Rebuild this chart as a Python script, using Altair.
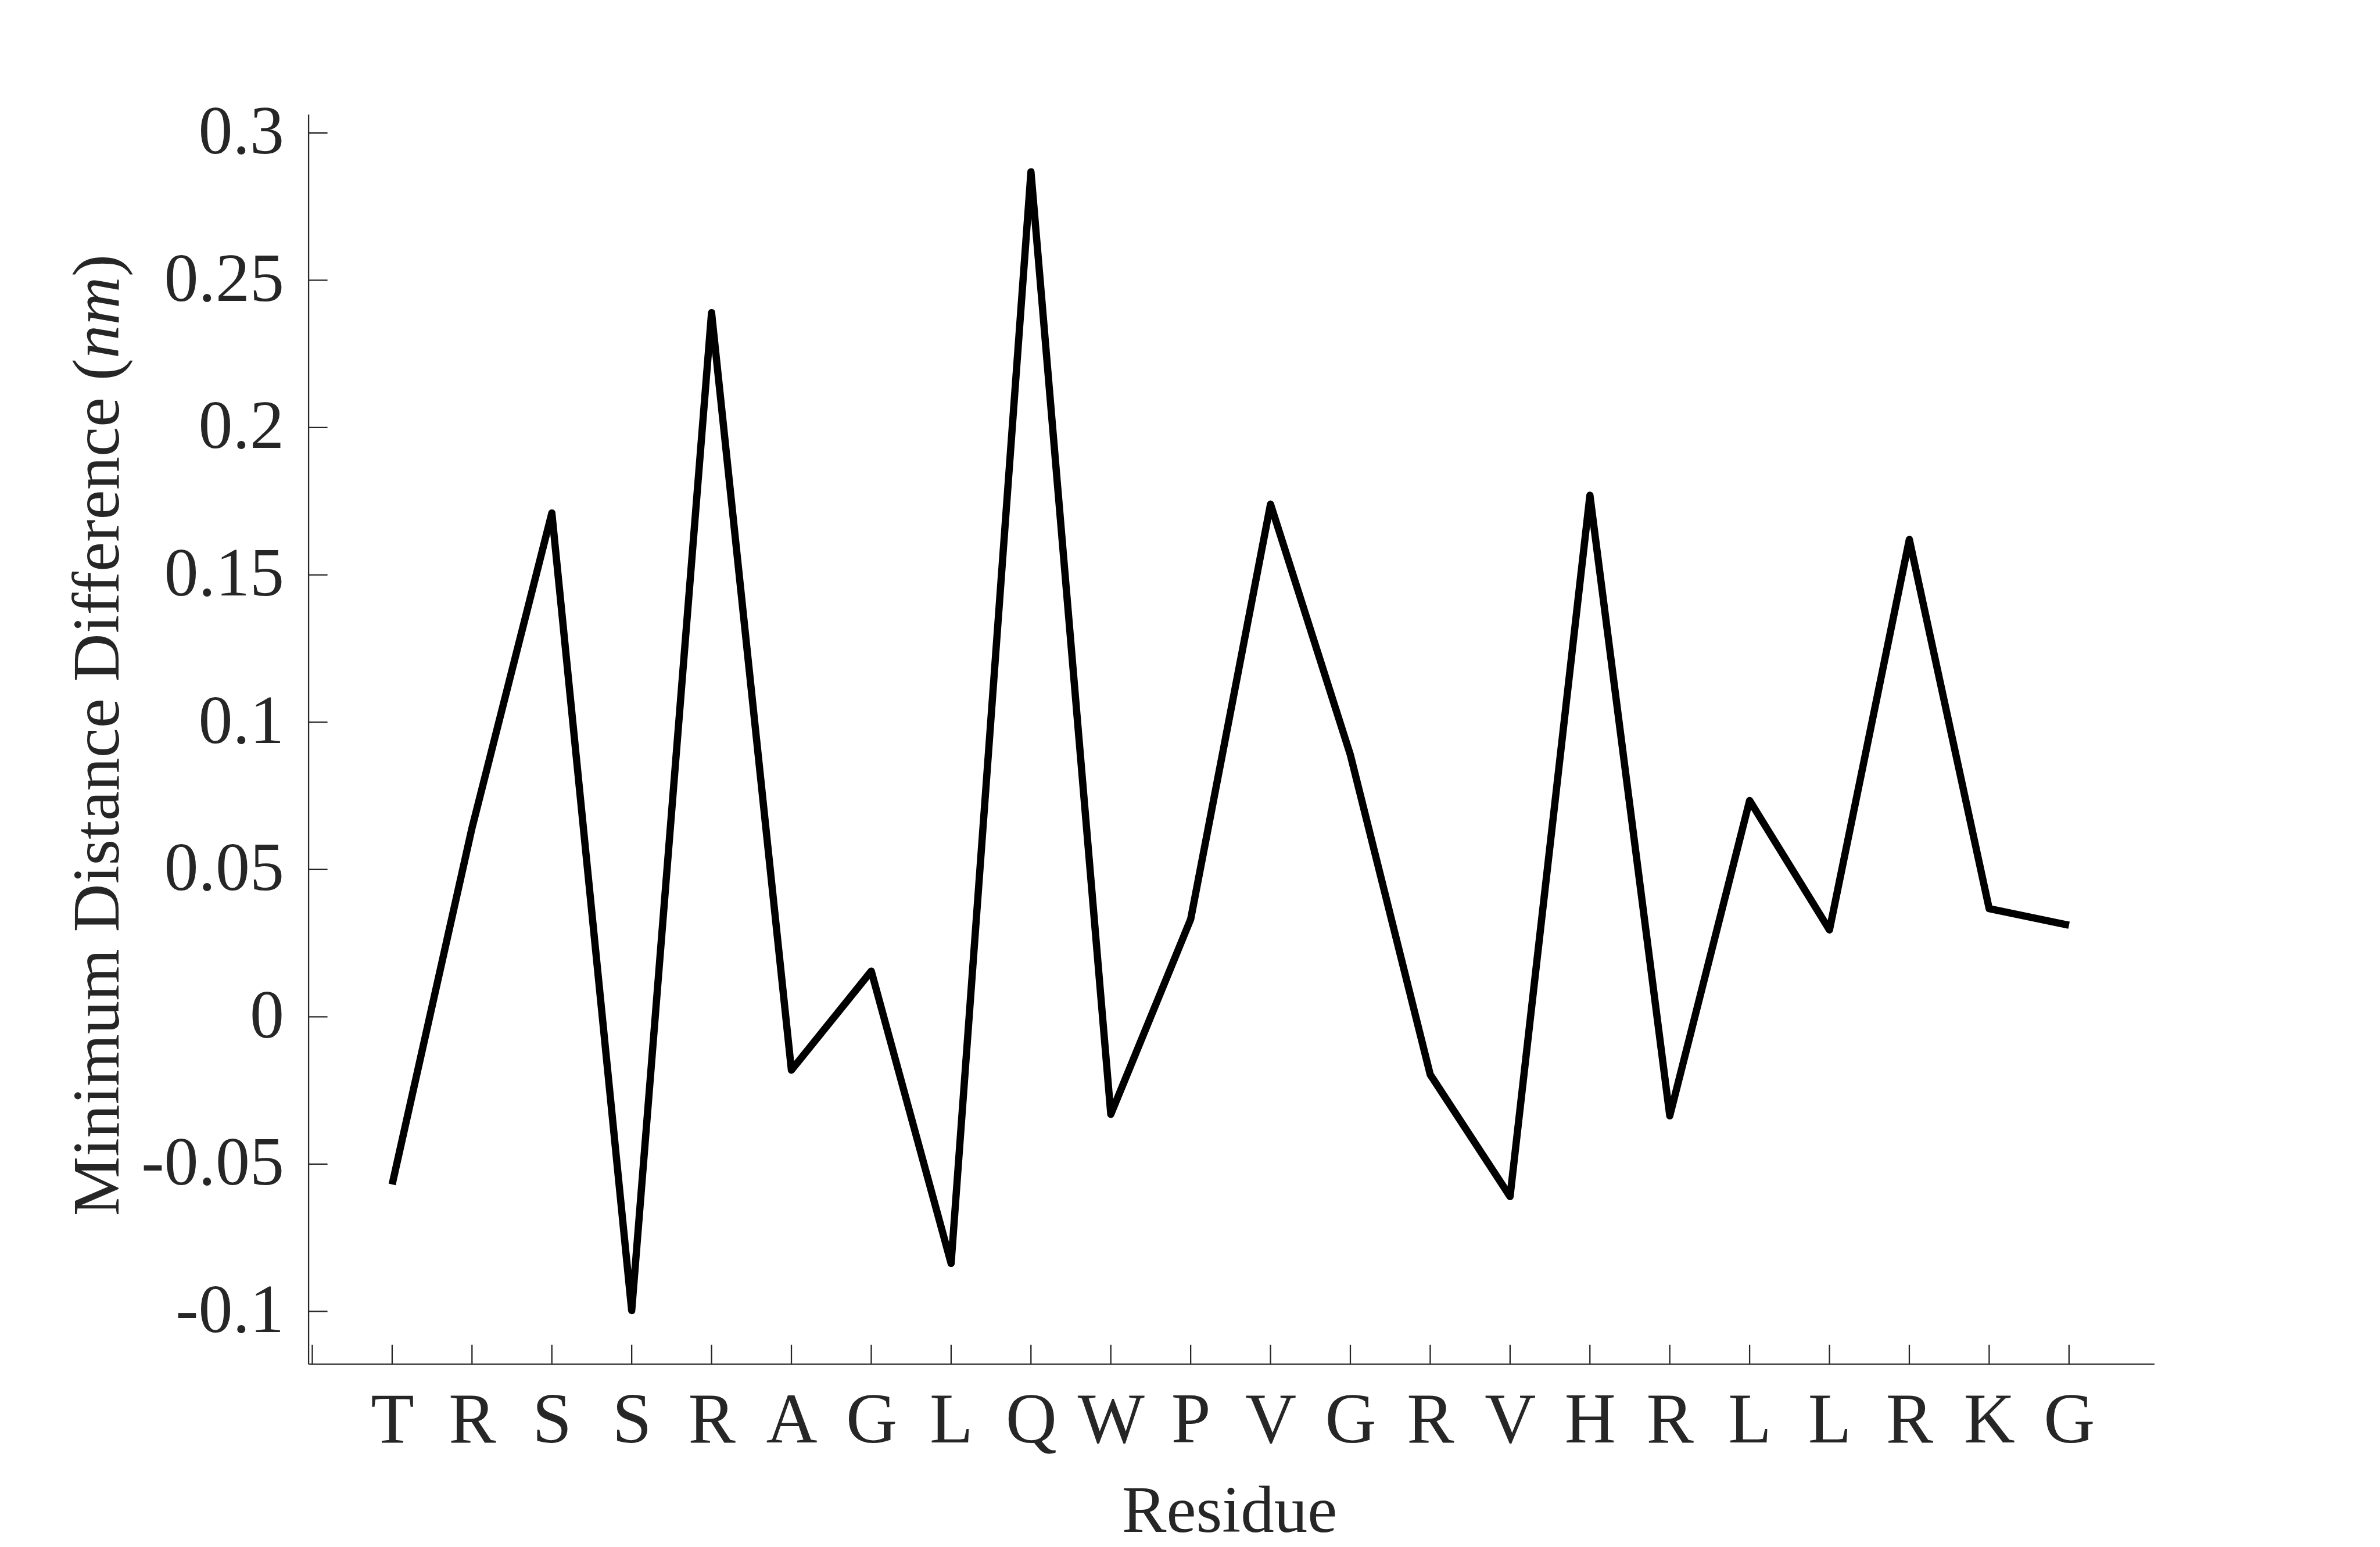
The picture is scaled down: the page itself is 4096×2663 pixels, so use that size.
import altair as alt
import pandas as pd

# ---- data ----
residues = ["T", "R", "S", "S", "R", "A", "G", "L", "Q", "W", "P",
            "V", "G", "R", "V", "H", "R", "L", "L", "R", "K", "G"]
positions = list(range(1, 23))
min_dist_diff = [-0.0569, 0.0641, 0.1710, -0.0997, 0.2390, -0.0181, 0.0155,
                 -0.0837, 0.2868, -0.0331, 0.0331, 0.1740, 0.0889, -0.0196,
                 -0.0610, 0.1770, -0.0336, 0.0734, 0.0295, 0.1620, 0.0367,
                 0.0311]
y_ticks = [-0.1, -0.05, 0, 0.05, 0.1, 0.15, 0.2, 0.25, 0.3]
x_ticks = list(range(0, 23))
x_tick_labels = [""] + residues
y_title_parts = ["Minimum Distance Difference (", "nm", ")"]
x_title = "Residue"

# ---- layout (0.867 of reference) ----
S = 0.867
W = round(3664 * S, 1)
H = round(2481 * S, 1)
PAD_L = round(612 * S, 1)
PAD_T = round(227 * S, 1)
PAD_R = 4096 - PAD_L - W
PAD_B = 2663 - PAD_T - H
TICK = 33
AX_COLOR = "#262626"
FONT = "Liberation Serif"
TITLE_SIZE = 115

# y title: regular part right-aligned at P, italic "nm" and ")" follow upward
MAIN_W = 12.858 * TITLE_SIZE
NM_W = 1.222 * TITLE_SIZE
CLOSE_W = 0.333 * TITLE_SIZE
TOTAL_W = MAIN_W + NM_W + CLOSE_W
TITLE_CY = 1070
P = TITLE_CY + TOTAL_W / 2 - MAIN_W
TITLE_X = -327

df = pd.DataFrame({"pos": positions, "residue": residues, "value": min_dist_diff})
ytick_df = pd.DataFrame({"v": y_ticks})
xtick_df = pd.DataFrame({"v": x_ticks})

x_scale = alt.Scale(domain=[-0.05, 23.066], nice=False, zero=False)
y_scale = alt.Scale(domain=[-0.1178, 0.3063], nice=False, zero=False)

label_arr = "[" + ",".join("'" + s + "'" for s in x_tick_labels) + "]"

x_axis = alt.Axis(
    values=x_ticks,
    labelExpr=label_arr + "[datum.value]",
    ticks=False, tickSize=0, grid=False,
    domainColor=AX_COLOR, domainWidth=2.3,
    labelFont=FONT, labelFontSize=122, labelColor=AX_COLOR,
    labelPadding=39, labelBaseline="top", labelFlush=False,
    labelOverlap=False, labelLimit=0,
    title=x_title, titleFont=FONT, titleFontSize=TITLE_SIZE,
    titleFontWeight="normal", titleColor=AX_COLOR,
    titleX=1585, titleY=289, titleBaseline="alphabetic",
    titleAlign="center",
)
y_axis = alt.Axis(
    values=y_ticks,
    labelExpr="replace(format(datum.value, '~g'), '\u2212', '-')",
    ticks=False, tickSize=0, grid=False,
    domainColor=AX_COLOR, domainWidth=2.3,
    labelFont=FONT, labelFontSize=118, labelColor=AX_COLOR,
    labelPadding=42, labelFlush=False, labelOverlap=False, labelLimit=0,
    title=None,
)

line = alt.Chart(df).mark_line(
    color="black", strokeWidth=12.5, strokeJoin="round", strokeCap="butt"
).encode(
    x=alt.X("pos:Q", scale=x_scale, axis=x_axis),
    y=alt.Y("value:Q", scale=y_scale, axis=y_axis),
)

yticks = alt.Chart(ytick_df).mark_rule(color=AX_COLOR, strokeWidth=2.3).encode(
    y=alt.Y("v:Q", scale=y_scale),
    x=alt.value(0),
    x2=alt.value(TICK),
)
xticks = alt.Chart(xtick_df).mark_rule(color=AX_COLOR, strokeWidth=2.3).encode(
    x=alt.X("v:Q", scale=x_scale),
    y=alt.value(H),
    y2=alt.value(H - TICK),
)


def title_part(text, y, align, style):
    return alt.Chart(pd.DataFrame({"t": [text]})).mark_text(
        font=FONT, fontSize=TITLE_SIZE, fontStyle=style, color=AX_COLOR,
        angle=270, align=align, baseline="alphabetic",
    ).encode(text="t:N", x=alt.value(TITLE_X), y=alt.value(y))


t_main = title_part(y_title_parts[0], P, "right", "normal")
t_nm = title_part(y_title_parts[1], P, "left", "italic")
t_close = title_part(y_title_parts[2], P - NM_W, "left", "normal")

chart = alt.layer(line, yticks, xticks, t_main, t_nm, t_close).properties(
    width=W, height=H,
    autosize=alt.AutoSizeParams(type="none"),
    padding={"left": PAD_L, "top": PAD_T, "right": PAD_R, "bottom": PAD_B},
    background="white",
).configure_view(stroke=None)

chart.save("out.html", embed_options={"renderer": "svg", "actions": False})
